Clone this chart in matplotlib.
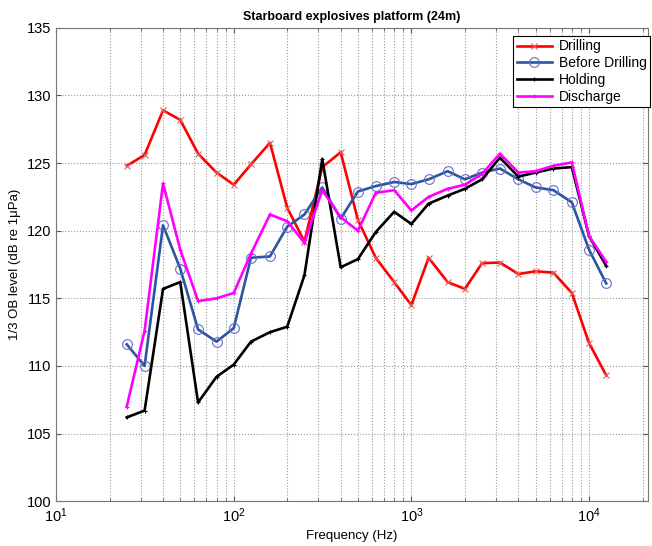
import numpy as np
import matplotlib
matplotlib.use('Agg')
import matplotlib.pyplot as plt

# 1/3 octave band centre frequencies (Hz)
freq = [25, 31.5, 40, 50, 63, 80, 100, 125, 160, 200, 250, 315, 400, 500,
        630, 800, 1000, 1250, 1600, 2000, 2500, 3150, 4000, 5000, 6300, 8000,
        10000, 12500]

drilling = [124.8, 125.6, 128.9, 128.2, 125.7, 124.3, 123.4, 124.9, 126.5, 121.7,
            119.2, 124.7, 125.8, 120.8, 118.0, 116.2, 114.5, 118.0, 116.2, 115.7,
            117.6, 117.65, 116.8, 117.0, 116.9, 115.4, 111.7, 109.3]
before = [111.6, 110.0, 120.4, 117.2, 112.7, 111.8, 112.8, 118.0, 118.1, 120.3,
          121.2, 123.2, 120.9, 122.9, 123.3, 123.6, 123.45, 123.8, 124.4, 123.8,
          124.3, 124.6, 123.8, 123.2, 123.0, 122.1, 118.6, 116.1]
holding = [106.2, 106.7, 115.7, 116.2, 107.3, 109.2, 110.1, 111.8, 112.5, 112.9,
           116.7, 125.3, 117.3, 117.9, 119.9, 121.4, 120.5, 122.0, 122.6, 123.1,
           123.8, 125.4, 124.0, 124.3, 124.6, 124.7, 119.6, 117.4]
discharge = [107.0, 112.6, 123.5, 118.6, 114.8, 115.0, 115.4, 118.3, 121.2, 120.7,
             119.1, 123.0, 121.0, 120.0, 122.8, 123.0, 121.5, 122.5, 123.1, 123.4,
             124.2, 125.7, 124.3, 124.4, 124.8, 125.05, 119.6, 117.7]

plt.rcParams['font.family'] = ['Liberation Sans', 'DejaVu Sans']

fig = plt.figure(figsize=(6.52, 5.46), dpi=100)
ax = fig.add_axes([0.086, 0.082, 0.908, 0.867])

ax.semilogx(freq, drilling, color='red', lw=1.9, marker='x', ms=4,
            mec='#e06060', mew=0.8, label='Drilling')
ax.semilogx(freq, before, color='#2a55a0', lw=1.9, marker='o', ms=7,
            mfc='none', mec='#6a6ac8', mew=0.8, label='Before Drilling')
ax.semilogx(freq, holding, color='black', lw=1.9, marker='+', ms=3,
            mew=0.8, label='Holding')
ax.semilogx(freq, discharge, color='#ff00ff', lw=1.9, marker='+', ms=3,
            mew=0.8, label='Discharge')

ax.set_xlim(10, 2.15e4)
ax.set_ylim(100, 135)
ax.set_yticks(np.arange(100, 136, 5))
ax.grid(True, which='major', ls=':', color='#999999', lw=0.8)
ax.grid(True, which='minor', axis='x', ls=':', color='#999999', lw=0.8)
ax.tick_params(which='both', direction='in', top=True, right=True,
               labelsize=10.5, color='#555555')
for s in ax.spines.values():
    s.set_color('#777777')

ax.set_title('Starboard explosives platform (24m)', fontsize=9,
             fontweight='bold', pad=6)
ax.set_xlabel('Frequency (Hz)', fontsize=9.5)
ax.set_ylabel('1/3 OB level (dB re 1\u03bcPa)', fontsize=9.5)

leg = ax.legend(loc='upper right', fontsize=10, fancybox=False,
                framealpha=1, edgecolor='black', borderpad=0.25,
                labelspacing=0.2, handlelength=2.5, handletextpad=0.5,
                bbox_to_anchor=(1.003, 0.983), borderaxespad=0)
leg.get_frame().set_linewidth(0.8)

fig.savefig('out.png', dpi=100)
